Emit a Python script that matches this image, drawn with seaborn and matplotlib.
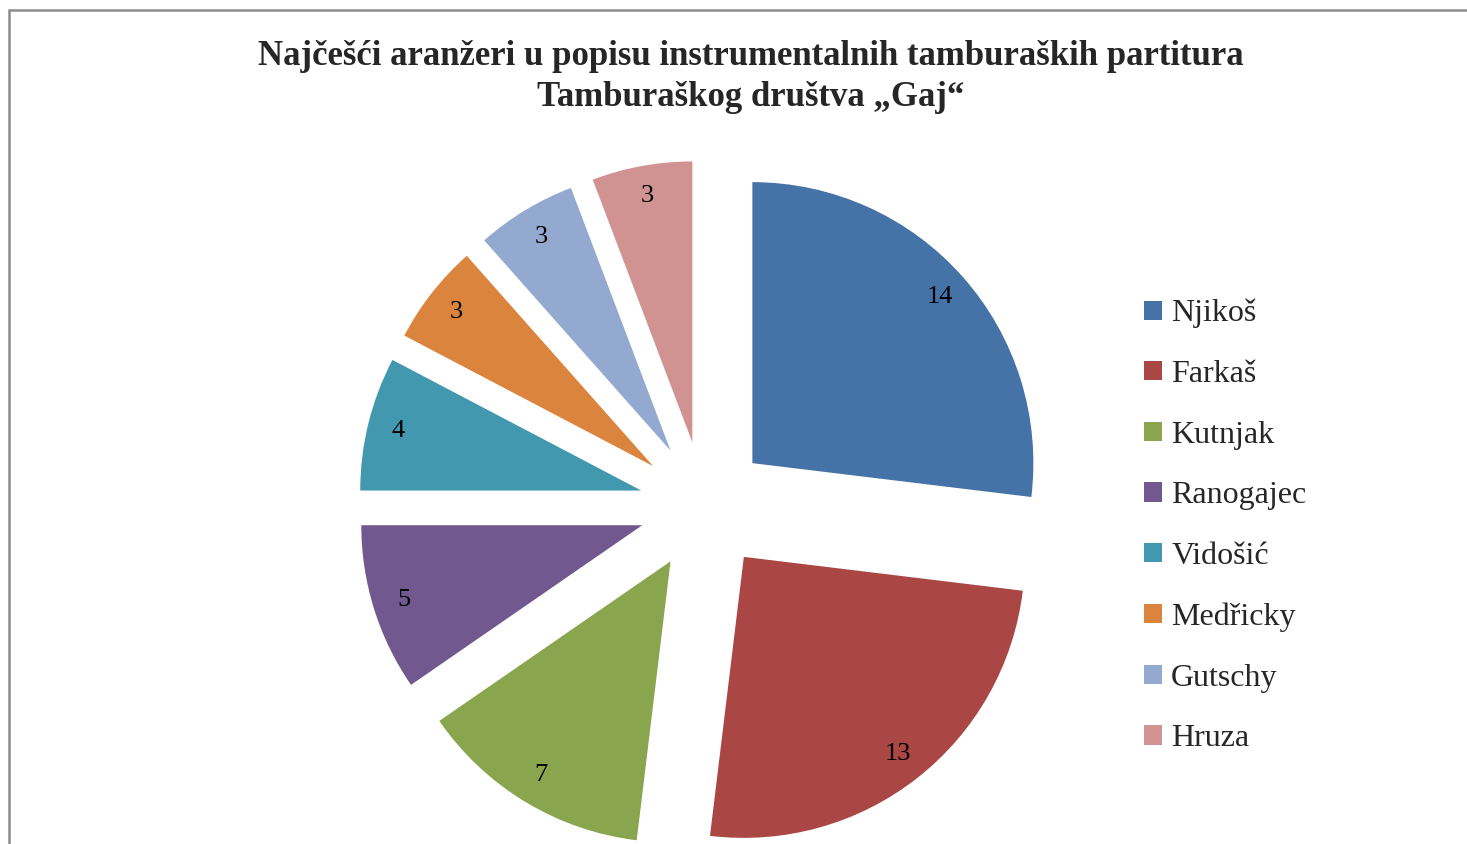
import seaborn as sns
import matplotlib
matplotlib.use("Agg")
import matplotlib.pyplot as plt
from matplotlib.patches import Rectangle

# data
arrangers = ["Njikoš", "Farkaš", "Kutnjak", "Ranogajec", "Vidošić", "Medřicky", "Gutschy", "Hruza"]
counts = [14, 13, 7, 5, 4, 3, 3, 3]
colors = ["#4572A7", "#AA4643", "#89A54E", "#71588F", "#4198AF", "#DB843D", "#93A9CF", "#D19392"]
title = "Najčešći aranžeri u popisu instrumentalnih tamburaških partitura\nTamburaškog društva „Gaj“"

sns.set_theme(style="white")
plt.rcParams["font.family"] = ["Liberation Serif", "DejaVu Serif"]

W, H = 1467, 844
fig = plt.figure(figsize=(W / 100, H / 100), dpi=100)

# pie axes: centre at (704, 506) px, radius 281 px
R = 281
cx, cy = 704, 506
span = 1.5
ax = fig.add_axes([(cx - span * R) / W, (H - cy - span * R) / H, 2 * span * R / W, 2 * span * R / H])
wedges, texts = ax.pie(
    counts,
    colors=colors,
    startangle=90,
    counterclock=False,
    explode=[0.23] * len(counts),
    labels=[str(c) for c in counts],
    labeldistance=0.89,
    textprops=dict(fontsize=19, color="black", ha="center", va="center"),
    wedgeprops=dict(linewidth=0),
)
for t in texts:
    t.set_ha("center")
    t.set_va("center")
ax.set_xlim(-span, span)
ax.set_ylim(-span, span)
ax.set_aspect("equal")
ax.axis("off")

fig.text(751 / W, 1 - 77 / H, title, ha="center", va="center", fontsize=25,
         fontweight="bold", linespacing=1.3)

fig.legend(wedges, arrangers, loc="upper left", bbox_to_anchor=(1144 / W, 1 - 299 / H),
           frameon=False, fontsize=23, handlelength=0.55, handleheight=0.55,
           handletextpad=0.3, labelspacing=0.99, borderpad=0, borderaxespad=0)

# chart area border
fig.patches.append(Rectangle((8.5 / W, -0.1), 1.2, 1.1 - 10.5 / H, transform=fig.transFigure,
                             fill=False, edgecolor="#8c8c8c", linewidth=1.8, zorder=0))

fig.savefig("out.png", dpi=100, facecolor="white")
